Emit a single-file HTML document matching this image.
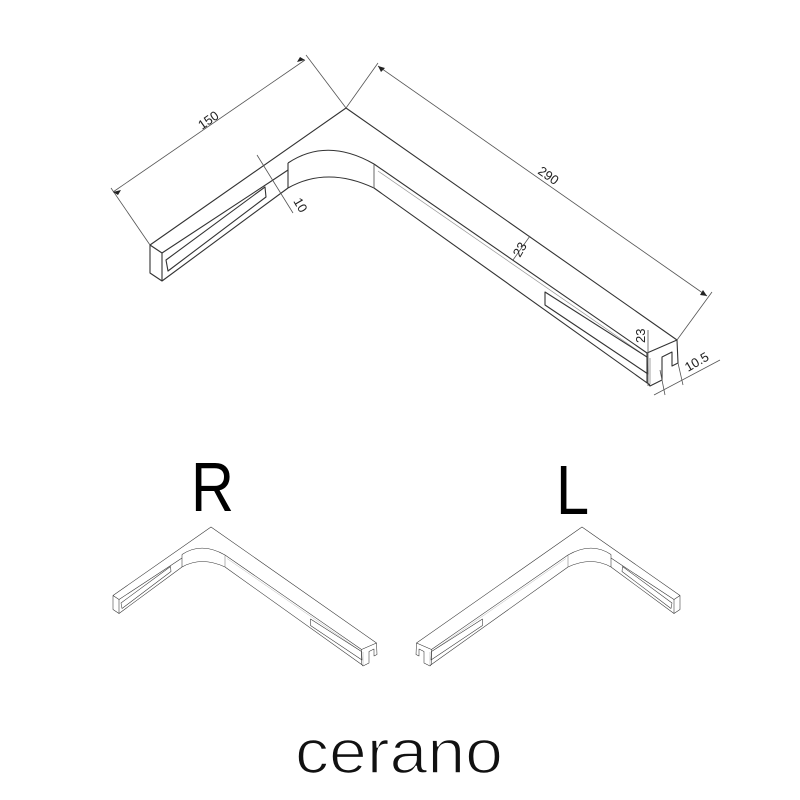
<!DOCTYPE html>
<html><head><meta charset="utf-8"><style>
html,body{margin:0;padding:0;background:#fff;}
svg{display:block;}
</style></head><body>
<svg width="800" height="800" viewBox="0 0 800 800" xmlns="http://www.w3.org/2000/svg">
<defs>
<g id="fig" fill="none" stroke="#333" stroke-width="1.1" stroke-linejoin="round">
  <path d="M150,245 L346,108 L677,340"/>
  <path d="M150,245 L162,253 L162,281 L150,273 Z"/>
  <path d="M162,253 L270,182 L288,170"/>
  <path d="M162,281 L288,188"/>
  <path d="M166,260 L265,187 L266,197 L168,271 Z"/>
  <path d="M288,163 L288,188"/>
  <path d="M288,163 Q327,137 374,164"/>
  <path d="M288,188 Q327,166 374,188"/>
  <path d="M374,164 L374,188" stroke="#777"/>
  <path d="M374,164 L647,353"/>
  <path d="M378,171 L647,357" stroke="#999" stroke-width="0.7"/>
  <path d="M374,188 L650,385"/>
  <path d="M545,292 L647,357 L648,374 L545,305 Z"/>
  <path d="M647,353 L677,340 L678,363 L672,366 L672,352 L662,357 L662,380 L650,386 L647,382 Z"/>
  <path d="M650,358 L650,384" stroke="#888" stroke-width="0.8"/>
</g>
</defs>

<use href="#fig"/>

<!-- dimensions -->
<g stroke="#555" stroke-width="0.8" fill="none">
  <path d="M150,245 L111,188"/>
  <path d="M346,108 L306,55"/>
  <path d="M113,192 L305,60"/>
  <path d="M346,108 L378,63"/>
  <path d="M677,340 L712,292"/>
  <path d="M378,66 L707,296"/>
  <path d="M257,155 L293,213"/>
  <path d="M513,260 L530,236" />
  <path d="M648,330 L648,386"/>
  <path d="M654,395 L720,360"/>
  <path d="M660,370 L665,395"/>
  <path d="M678,363 L683,385"/>
</g>
<g fill="#222">
  <path d="M113,192 l8,-2 l-3,5 z"/>
  <path d="M305,60 l-8,2 l3,-5 z"/>
  <path d="M378,66 l3,6 l4,-4 z"/>
  <path d="M707,296 l-4,-6 l-3,5 z"/>
</g>
<g font-family="Liberation Sans, sans-serif" font-size="13" fill="#222">
  <text x="0" y="0" transform="translate(202,130) rotate(-35)">150</text>
  <text x="0" y="0" transform="translate(537,173) rotate(35)">290</text>
  <text x="0" y="0" transform="translate(293,201) rotate(60)">10</text>
  <text x="0" y="0" transform="translate(520,258) rotate(-60)">23</text>
  <text x="0" y="0" transform="translate(645,343) rotate(-90)">23</text>
  <text x="0" y="0" transform="translate(688,372) rotate(-30)">10.5</text>
</g>

<!-- R / L -->
<g font-family="Liberation Sans, sans-serif" font-size="70" fill="#000">
  <text x="0" y="0" transform="translate(191,511) scale(0.85,1)">R</text>
  <text x="0" y="0" transform="translate(556,514) scale(0.85,1)">L</text>
</g>
<g transform="translate(211,527) scale(0.5) translate(-346,-108)"><use href="#fig"/></g>
<g transform="translate(582,527) scale(-0.5,0.5) translate(-346,-108)"><use href="#fig"/></g>

<text x="295" y="773" font-family="Liberation Sans, sans-serif" font-size="62" textLength="208" lengthAdjust="spacingAndGlyphs" fill="#111" stroke="#fff" stroke-width="1.6">cerano</text>
</svg>
</body></html>
